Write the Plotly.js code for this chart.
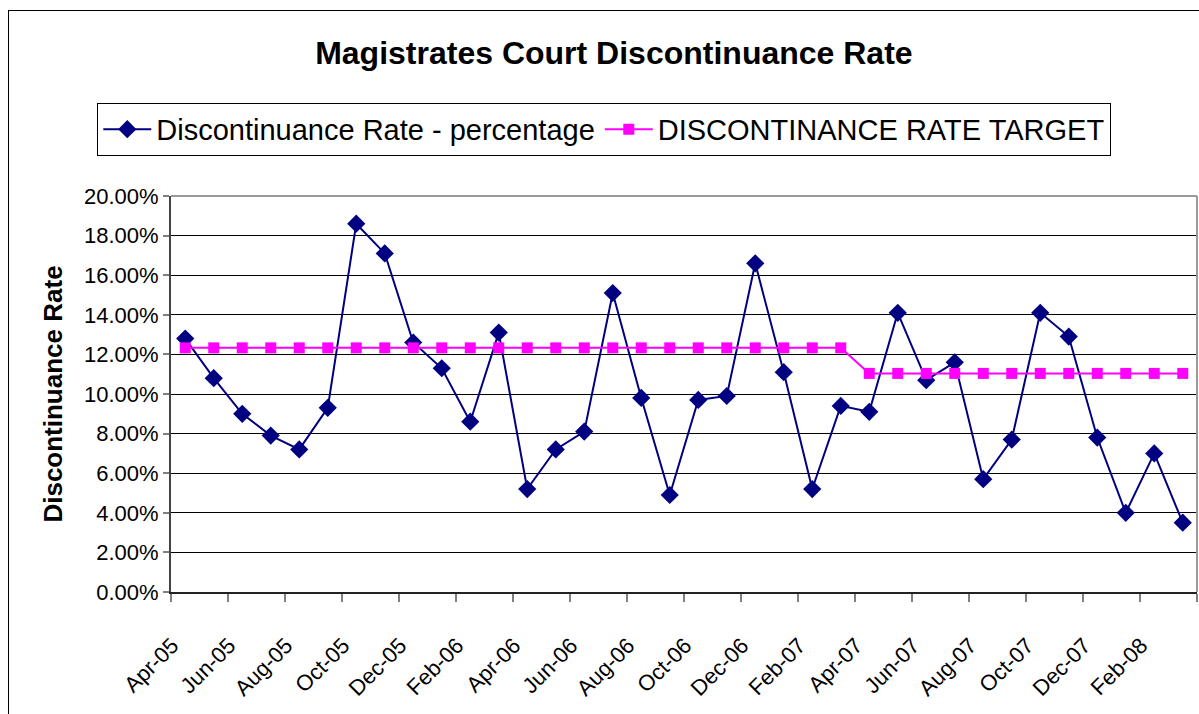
<!DOCTYPE html>
<html>
<head>
<meta charset="utf-8">
<script src="https://cdn.plot.ly/plotly-3.0.1.min.js"></script>
<style>
  html, body { margin: 0; padding: 0; background: #fff; }
  #chart { width: 1199px; height: 714px; position: relative; }
  #frame { position: absolute; left: 8px; top: 10px; width: 1300px; height: 800px; border-left: 1.5px solid #000; border-top: 1.5px solid #000; pointer-events: none; }
</style>
</head>
<body>
<div style="position:relative;width:1199px;height:714px;overflow:hidden;">
  <div id="chart"></div>
  <div id="frame"></div>
</div>
<script>
const months = ["Apr-05","May-05","Jun-05","Jul-05","Aug-05","Sep-05","Oct-05","Nov-05","Dec-05","Jan-06","Feb-06","Mar-06",
                "Apr-06","May-06","Jun-06","Jul-06","Aug-06","Sep-06","Oct-06","Nov-06","Dec-06","Jan-07","Feb-07","Mar-07",
                "Apr-07","May-07","Jun-07","Jul-07","Aug-07","Sep-07","Oct-07","Nov-07","Dec-07","Jan-08","Feb-08","Mar-08"];
const rates = [12.8, 10.8, 9.0, 7.9, 7.2, 9.3, 18.6, 17.1, 12.6, 11.3, 8.6, 13.1,
               5.2, 7.2, 8.1, 15.1, 9.8, 4.9, 9.7, 9.9, 16.6, 11.1, 5.2, 9.4,
               9.1, 14.1, 10.7, 11.6, 5.7, 7.7, 14.1, 12.9, 7.8, 4.0, 7.0, 3.5];
const target = [12.33, 12.33, 12.33, 12.33, 12.33, 12.33, 12.33, 12.33, 12.33, 12.33, 12.33, 12.33,
                12.33, 12.33, 12.33, 12.33, 12.33, 12.33, 12.33, 12.33, 12.33, 12.33, 12.33, 12.33,
                11.04, 11.04, 11.04, 11.04, 11.04, 11.04, 11.04, 11.04, 11.04, 11.04, 11.04, 11.04];
const seriesNames = ["Discontinuance Rate - percentage", "DISCONTINANCE RATE TARGET"];

const FONT = "Arial, 'Liberation Sans', sans-serif";

const traces = [
  {
    x: months, y: rates, name: seriesNames[0], type: "scatter", mode: "lines+markers",
    line: { color: "#000080", width: 2 },
    marker: { symbol: "diamond", size: 14, color: "#000080" }
  },
  {
    x: months, y: target, name: seriesNames[1], type: "scatter", mode: "lines+markers",
    line: { color: "#FF00FF", width: 2 },
    marker: { symbol: "square", size: 11, color: "#FF00FF" }
  }
];

const layout = {
  width: 1199, height: 714,
  margin: { l: 171, r: 2, t: 196, b: 122 },
  paper_bgcolor: "#fff", plot_bgcolor: "#fff",
  font: { family: FONT, color: "#000" },
  title: {
    text: "<b>Magistrates Court Discontinuance Rate</b>",
    font: { family: FONT, size: 32, color: "#000" },
    xref: "container", yref: "container", x: 0.512, y: 0.926, xanchor: "center", yanchor: "middle"
  },
  showlegend: true,
  legend: {
    orientation: "h", xref: "container", yref: "container",
    x: 0.504, y: 0.856, xanchor: "center", yanchor: "top",
    itemwidth: 48,
    bordercolor: "#000", borderwidth: 1, bgcolor: "#fff",
    font: { family: FONT, size: 29, color: "#000" }
  },
  xaxis: {
    type: "category", categoryorder: "array", categoryarray: months,
    range: [-0.5, 35.5], tickmode: "linear", tick0: 0, dtick: 2,
    tickson: "boundaries", ticks: "outside", ticklen: 8, tickcolor: "#808080", tickwidth: 2,
    showgrid: false, showline: true, linecolor: "#222", linewidth: 2,
    tickangle: -45, tickfont: { family: FONT, size: 22, color: "#000" },
    ticklabelshift: -13, ticklabelstandoff: 30,
    zeroline: false, fixedrange: true
  },
  yaxis: {
    range: [0, 20], tickmode: "linear", tick0: 0, dtick: 2,
    tickformat: ".2f", ticksuffix: "%",
    ticks: "outside", ticklen: 6, tickcolor: "#808080", tickwidth: 2,
    showgrid: true, gridcolor: "#000", gridwidth: 1,
    showline: true, linecolor: "#444", linewidth: 2, zeroline: false,
    tickfont: { family: FONT, size: 22, color: "#000" },
    title: { text: "<b>Discontinuance Rate</b>", font: { family: FONT, size: 26, color: "#000" }, standoff: 14 },
    fixedrange: true
  },
  shapes: [
    { type: "line", xref: "x domain", yref: "y domain", x0: 0, x1: 1, y0: 1, y1: 1, line: { color: "#999", width: 2 } },
    { type: "line", xref: "x domain", yref: "y domain", x0: 1, x1: 1, y0: 0, y1: 1, line: { color: "#999", width: 2 } }
  ]
};

Plotly.newPlot("chart", traces, layout, { displayModeBar: false, staticPlot: true });
</script>
</body>
</html>
